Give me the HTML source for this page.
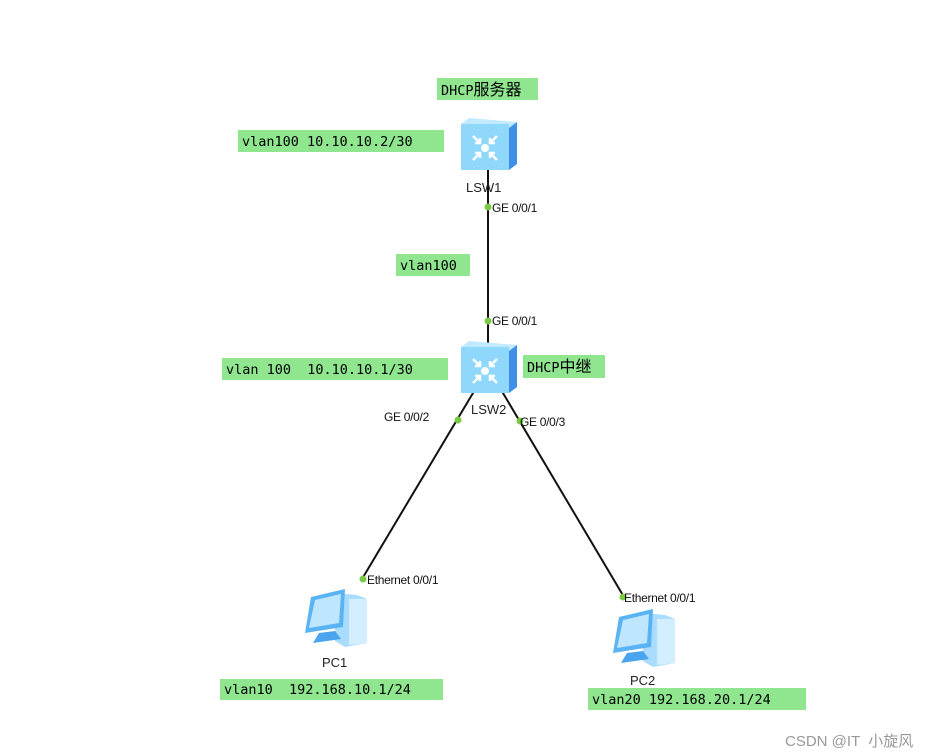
<!DOCTYPE html>
<html><head><meta charset="utf-8"><style>
body{margin:0;background:#fff;}
svg{display:block}
.g{fill:#8fe68f}
.m{font-family:"DejaVu Sans Mono","Liberation Mono","Noto Sans CJK SC",monospace;font-size:13.5px;fill:#000}
.c{font-family:"Noto Sans CJK SC",sans-serif;font-size:16px}
.s{font-family:"Liberation Sans","Noto Sans CJK SC",sans-serif;font-size:12px;fill:#111;letter-spacing:-0.3px}
.n{font-family:"Liberation Sans",sans-serif;font-size:13px;fill:#222}
</style></head><body>
<svg width="931" height="755" viewBox="0 0 931 755">
<defs>
<g id="sw">
<polygon points="0,6 8,0 56,4 48,10" fill="#bfeaff"/>
<polygon points="48,10 56,4 56,46 48,52" fill="#3f8fe8"/>
<rect x="0" y="6" width="48" height="46" fill="#8fd8fb"/>
<circle cx="24" cy="30" r="4" fill="#fff"/>
<g stroke="#fff" stroke-width="2.5" fill="none">
<path d="M12 18 L19 25 M19 20 L19 25 L14 25"/>
<path d="M36 18 L29 25 M29 20 L29 25 L34 25"/>
<path d="M12 42 L19 35 M19 40 L19 35 L14 35"/>
<path d="M36 42 L29 35 M29 40 L29 35 L34 35"/>
</g>
</g>
<g id="pc">
<polygon points="30,6 52,8 62,12 62,56 40,60 30,54" fill="#a9dcff"/>
<polygon points="44,12 62,12 62,56 44,58" fill="#d3efff"/>
<polygon points="6,10 40,2 38,40 0,46" fill="#5ab4f4"/>
<polygon points="10,13 36,7 34,36 4,41" fill="#bfe6ff"/>
<polygon points="14,46 30,44 36,52 8,56" fill="#4aa4ee"/>
</g>
</defs>
<line x1="488" y1="160" x2="488" y2="345" stroke="#111" stroke-width="2"/>
<line x1="476" y1="388" x2="362" y2="579" stroke="#111" stroke-width="2"/>
<line x1="500" y1="388" x2="624" y2="597" stroke="#111" stroke-width="2"/>
<circle cx="488" cy="207" r="3.5" fill="#7ac943"/>
<circle cx="488" cy="321" r="3.5" fill="#7ac943"/>
<circle cx="458" cy="420" r="3.5" fill="#7ac943"/>
<circle cx="520" cy="421" r="3.5" fill="#7ac943"/>
<circle cx="363" cy="579" r="3.5" fill="#7ac943"/>
<circle cx="623" cy="597" r="3.5" fill="#7ac943"/>
<use href="#sw" x="461" y="118"/>
<use href="#sw" x="461" y="341"/>
<use href="#pc" x="305" y="587"/>
<use href="#pc" x="613" y="607"/>
<text class="n" x="466" y="192">LSW1</text>
<text class="n" x="471" y="414">LSW2</text>
<text class="n" x="322" y="667">PC1</text>
<text class="n" x="630" y="685">PC2</text>
<text class="s" x="492" y="212">GE 0/0/1</text>
<text class="s" x="492" y="325">GE 0/0/1</text>
<text class="s" x="384" y="421">GE 0/0/2</text>
<text class="s" x="520" y="426">GE 0/0/3</text>
<text class="s" x="367" y="584">Ethernet 0/0/1</text>
<text class="s" x="624" y="602">Ethernet 0/0/1</text>
<rect class="g" x="437" y="78" width="101" height="22"/>
<text class="m" x="441" y="95">DHCP<tspan class="c">服务器</tspan></text>
<rect class="g" x="238" y="130" width="206" height="22"/>
<text class="m" x="242" y="146">vlan100 10.10.10.2/30</text>
<rect class="g" x="396" y="254" width="74" height="22"/>
<text class="m" x="400" y="270">vlan100</text>
<rect class="g" x="222" y="358" width="226" height="22"/>
<text class="m" x="226" y="374" xml:space="preserve">vlan 100  10.10.10.1/30</text>
<rect class="g" x="523" y="355" width="82" height="23"/>
<text class="m" x="527" y="372">DHCP<tspan class="c">中继</tspan></text>
<rect class="g" x="220" y="679" width="223" height="21"/>
<text class="m" x="224" y="694" xml:space="preserve">vlan10  192.168.10.1/24</text>
<rect class="g" x="588" y="688" width="218" height="22"/>
<text class="m" x="592" y="704">vlan20 192.168.20.1/24</text>
<text x="785" y="746" font-family="Liberation Sans,'Noto Sans CJK SC',sans-serif" font-size="15" fill="#999" xml:space="preserve">CSDN @IT  小旋风</text>
</svg>
</body></html>
